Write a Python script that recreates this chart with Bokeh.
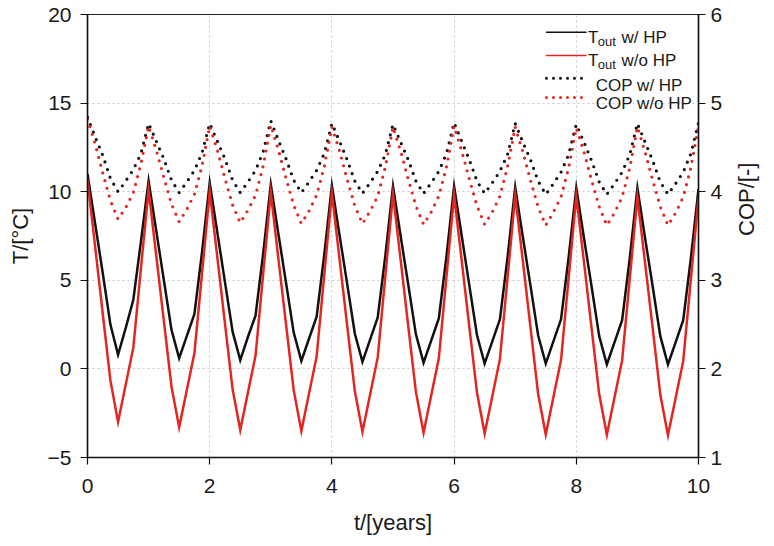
import math
from bokeh.plotting import figure
from bokeh.models import Range1d, LinearAxis, FixedTicker, Label, Arrow
from bokeh.embed import file_html
from bokeh.resources import INLINE

# ---------------- data ----------------
t_years = [k / 8 for k in range(81)]

t_out_with_hp = [
    11.0, 8.2, 5.4, 2.5, 0.8, 2.3, 3.9, 7.2,
    10.6, 7.8, 5.0, 2.2, 0.6, 1.85, 3.1, 6.6,
    10.5, 7.7, 4.9, 2.1, 0.5, 1.8, 3.0, 6.5,
    10.4, 7.6, 4.85, 2.05, 0.45, 1.7, 2.95, 6.45,
    10.35, 7.55, 4.8, 2.0, 0.4, 1.65, 2.9, 6.4,
    10.3, 7.5, 4.75, 1.95, 0.35, 1.6, 2.85, 6.35,
    10.3, 7.5, 4.7, 1.9, 0.3, 1.55, 2.8, 6.3,
    10.25, 7.45, 4.7, 1.9, 0.3, 1.55, 2.8, 6.3,
    10.2, 7.4, 4.65, 1.85, 0.25, 1.5, 2.75, 6.25,
    10.2, 7.4, 4.65, 1.85, 0.25, 1.5, 2.75, 6.25,
    10.15,
]

t_out_without_hp = [
    10.7, 6.9, 3.1, -0.65, -3.0, -0.9, 1.2, 5.7,
    10.1, 6.4, 2.7, -1.0, -3.3, -1.2, 0.9, 5.4,
    10.0, 6.3, 2.55, -1.15, -3.45, -1.35, 0.75, 5.35,
    9.95, 6.2, 2.5, -1.2, -3.5, -1.4, 0.7, 5.3,
    9.9, 6.2, 2.45, -1.25, -3.55, -1.45, 0.65, 5.25,
    9.85, 6.15, 2.4, -1.3, -3.6, -1.5, 0.6, 5.2,
    9.8, 6.1, 2.35, -1.35, -3.65, -1.55, 0.55, 5.15,
    9.8, 6.1, 2.35, -1.4, -3.7, -1.6, 0.5, 5.15,
    9.75, 6.05, 2.3, -1.42, -3.72, -1.62, 0.48, 5.1,
    9.7, 6.0, 2.3, -1.45, -3.75, -1.65, 0.45, 5.05,
    9.65,
]

cop_with_hp = [
    4.84, 4.62, 4.41, 4.15, 4.00, 4.12, 4.25, 4.43,
    4.77, 4.57, 4.37, 4.13, 3.99, 4.11, 4.24, 4.44,
    4.77, 4.57, 4.37, 4.13, 3.99, 4.11, 4.24, 4.45,
    4.80, 4.58, 4.37, 4.13, 3.99, 4.11, 4.24, 4.43,
    4.77, 4.57, 4.36, 4.12, 3.98, 4.10, 4.23, 4.42,
    4.76, 4.56, 4.36, 4.12, 3.98, 4.10, 4.23, 4.43,
    4.78, 4.57, 4.36, 4.12, 3.98, 4.10, 4.23, 4.42,
    4.77, 4.56, 4.36, 4.12, 3.97, 4.09, 4.22, 4.42,
    4.76, 4.56, 4.35, 4.11, 3.97, 4.09, 4.22, 4.42,
    4.77, 4.56, 4.35, 4.11, 3.97, 4.09, 4.22, 4.43,
    4.78,
]

cop_without_hp = [
    4.82, 4.54, 4.21, 3.90, 3.69, 3.82, 3.99, 4.31,
    4.74, 4.47, 4.16, 3.86, 3.66, 3.80, 3.97, 4.29,
    4.74, 4.47, 4.15, 3.85, 3.65, 3.79, 3.96, 4.29,
    4.75, 4.47, 4.15, 3.85, 3.64, 3.78, 3.96, 4.28,
    4.73, 4.46, 4.14, 3.84, 3.64, 3.78, 3.95, 4.28,
    4.73, 4.46, 4.14, 3.84, 3.63, 3.77, 3.95, 4.28,
    4.74, 4.46, 4.14, 3.84, 3.63, 3.77, 3.95, 4.28,
    4.73, 4.45, 4.13, 3.83, 3.62, 3.77, 3.94, 4.27,
    4.72, 4.45, 4.13, 3.83, 3.62, 3.76, 3.94, 4.27,
    4.73, 4.45, 4.13, 3.83, 3.62, 3.76, 3.94, 4.27,
    4.74,
]

x_ticks = [0, 2, 4, 6, 8, 10]
t_ticks = [-5, 0, 5, 10, 15, 20]
cop_ticks = [1, 2, 3, 4, 5, 6]

BLACK = "#111111"
RED = "#e3261f"
FONT = "Liberation Sans"

# ---------------- figure ----------------
p = figure(width=774, height=546, output_backend="svg", toolbar_location=None,
           x_range=Range1d(0, 10), y_range=Range1d(-5, 20),
           min_border_left=87, min_border_right=68, min_border_top=14, min_border_bottom=89)
p.extra_y_ranges = {"cop": Range1d(1, 6)}
p.background_fill_color = "white"
p.border_fill_color = "white"
p.outline_line_color = "#222222"
p.outline_line_width = 1.2

# grid
for g in (p.xgrid, p.ygrid):
    g.grid_line_color = "#c8c8c8"
    g.grid_line_dash = "2 3"
    g.grid_line_width = 1
p.xgrid.ticker = FixedTicker(ticks=x_ticks)
p.ygrid.ticker = FixedTicker(ticks=t_ticks)

# axes
right_axis = LinearAxis(y_range_name="cop", axis_label="COP/[-]")
p.add_layout(right_axis, "right")
if "axis_label_orientation" in right_axis.properties():
    right_axis.axis_label_orientation = math.pi / 2

p.xaxis.ticker = FixedTicker(ticks=x_ticks)
p.yaxis[0].ticker = FixedTicker(ticks=t_ticks)
right_axis.ticker = FixedTicker(ticks=cop_ticks)
p.xaxis.axis_label = "t/[years]"
p.yaxis[0].axis_label = "T/[°C]"

for ax in [p.xaxis[0], p.yaxis[0], right_axis]:
    ax.axis_line_color = BLACK
    ax.axis_line_width = 1.5
    ax.major_tick_line_color = BLACK
    ax.major_tick_line_width = 1.2
    ax.major_tick_out = 7
    ax.major_tick_in = 0
    ax.minor_tick_line_color = None
    ax.major_label_text_font = FONT
    ax.major_label_text_font_size = "21px"
    ax.major_label_text_color = "#1a1a1a"
    ax.axis_label_text_font = FONT
    ax.axis_label_text_font_size = "22px"
    ax.axis_label_text_font_style = "normal"
    ax.axis_label_text_color = "#1a1a1a"

p.xaxis.major_label_standoff = 14
p.xaxis.axis_label_standoff = 14
p.yaxis[0].major_label_standoff = 9
p.yaxis[0].axis_label_standoff = 12
right_axis.major_label_standoff = 5
right_axis.axis_label_standoff = 21


def ty(py):
    return 20 - (py - 14) / 17.72


def tx(px):
    return (px - 87) / 61.9


# series
p.line(t_years, t_out_with_hp, line_color=BLACK, line_width=2.5, line_join="miter")
p.line(t_years, t_out_without_hp, line_color=RED, line_width=2.5, line_join="miter")
p.line(t_years, cop_with_hp, y_range_name="cop", line_color=BLACK, line_width=3.2,
       line_dash="0 8", line_cap="round")
p.line(t_years, cop_without_hp, y_range_name="cop", line_color=RED, line_width=3.2,
       line_dash="0 8", line_cap="round")

# ---------------- legend (built from annotations) ----------------
leg_x0, leg_x1 = tx(552), tx(592)
for py, col, dash, w in [(31.7, BLACK, "solid", 1.5), (55, RED, "solid", 1.5),
                         (77.7, BLACK, "0 7", 3.0), (97, RED, "0 7", 3.0)]:
    p.add_layout(Arrow(end=None, x_start=leg_x0, y_start=ty(py), x_end=leg_x1, y_end=ty(py),
                       line_color=col, line_width=w, line_dash=dash, line_cap="round"))

LEG_SIZE = "17px"
SUB_SIZE = "13px"
for base, txt in [(36.7, "w/ HP"), (60, "w/o HP")]:
    p.add_layout(Label(x=tx(594), y=ty(base), text="T", text_font=FONT,
                       text_font_size=LEG_SIZE, text_baseline="alphabetic", text_color="#1a1a1a"))
    p.add_layout(Label(x=tx(604), y=ty(base + 4), text="out", text_font=FONT,
                       text_font_size=SUB_SIZE, text_baseline="alphabetic", text_color="#1a1a1a"))
    p.add_layout(Label(x=tx(628), y=ty(base), text=txt, text_font=FONT,
                       text_font_size=LEG_SIZE, text_baseline="alphabetic", text_color="#1a1a1a"))
for base, txt in [(85, "COP w/ HP"), (102.7, "COP w/o HP")]:
    p.add_layout(Label(x=tx(602), y=ty(base), text=txt, text_font=FONT,
                       text_font_size=LEG_SIZE, text_baseline="alphabetic", text_color="#1a1a1a"))

open("out.html", "w").write(file_html(p, INLINE))
